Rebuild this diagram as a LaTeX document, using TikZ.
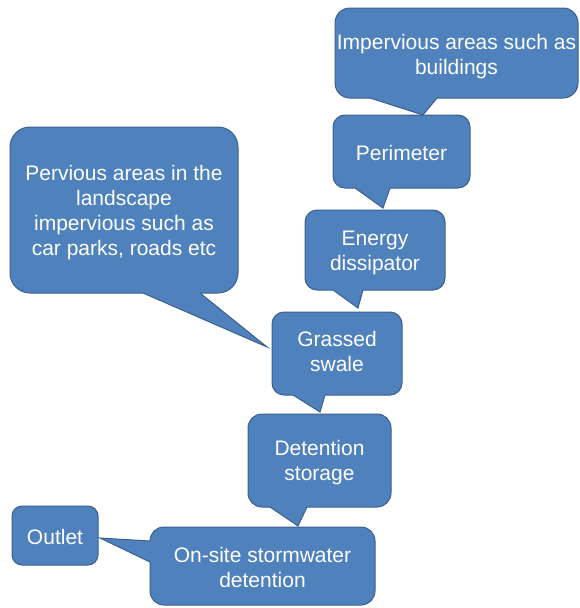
\documentclass[tikz,border=0pt]{standalone}
\usepackage{fontspec}
\setmainfont{Liberation Sans}
\usetikzlibrary{calc}
\definecolor{cfillc}{HTML}{4F81BD}
\definecolor{cdrawc}{HTML}{3A5F8E}
\tikzset{
  bubble/.style={draw=cdrawc, fill=cfillc, line width=1pt, inner sep=0pt},
  btext/.style={text=white, align=center, inner sep=0pt, font=\fontsize{21}{25}\selectfont},
  tailfill/.style={fill=cfillc},
  tailline/.style={draw=cdrawc, line width=1pt, line join=miter},
}
\newcommand\calltail[4]{%
  \fill[tailfill] ($#1+#4$) -- #1 -- #3 -- #2 -- ($#2+#4$) -- cycle;
  \draw[tailline] #1 -- #3 -- #2;}
\begin{document}
\begin{tikzpicture}[x=1pt,y=-1pt]
\useasboundingbox (0,0) rectangle (580,608);

\node[bubble, rounded corners=15pt, minimum width=243pt, minimum height=90pt] (imp) at (456.5,53) {};
\node[bubble, rounded corners=12pt, minimum width=137pt, minimum height=73pt] (peri) at (401.5,151.5) {};
\node[bubble, rounded corners=12pt, minimum width=140pt, minimum height=80pt] (ener) at (375,250) {};
\node[bubble, rounded corners=12pt, minimum width=130pt, minimum height=83pt] (grass) at (337,353.5) {};
\node[bubble, rounded corners=14pt, minimum width=143pt, minimum height=93pt] (det) at (319.5,460.5) {};
\node[bubble, rounded corners=14pt, minimum width=225pt, minimum height=78pt] (onsite) at (262.5,566) {};
\node[bubble, rounded corners=10pt, minimum width=86pt, minimum height=59pt] (outlet) at (55,535.5) {};
\node[bubble, rounded corners=20pt, minimum width=228pt, minimum height=166pt] (perv) at (124,210) {};

% callout tails
\calltail{(370,98)}{(437,98)}{(423,115)}{(0,-2)}
\calltail{(355,188)}{(390,188)}{(383,208)}{(0,-2)}
\calltail{(333,290)}{(363,290)}{(358,308)}{(0,-2)}
\calltail{(293,395)}{(325,395)}{(320,412)}{(0,-2)}
\calltail{(270,507)}{(307,507)}{(298,526)}{(0,-2)}
\calltail{(143,293)}{(200,293)}{(267,347)}{(0,-2)}
\calltail{(150,541)}{(150,562)}{(100,538)}{(2,0)}

% texts
\node[btext] (imp-t) at ($(imp.center)+(0,4)$) {Impervious areas such as\\buildings};
\node[btext] (peri-t) at ($(peri.center)+(0,1.5)$) {Perimeter};
\node[btext] (ener-t) at ($(ener.center)+(0,3)$) {Energy\\dissipator};
\node[btext] (grass-t) at ($(grass.center)+(0,-2.5)$) {Grassed\\swale};
\node[btext] (det-t) at ($(det.center)+(0,2)$) {Detention\\storage};
\node[btext] (onsite-t) at ($(onsite.center)+(0,1)$) {On-site stormwater\\detention};
\node[btext] (outlet-t) at ($(outlet.center)+(0,1)$) {Outlet};
\node[btext] (perv-t) at ($(perv.center)+(0,2.5)$) {Pervious areas in the\\landscape\\impervious such as\\car parks, roads etc};
\end{tikzpicture}
\end{document}
